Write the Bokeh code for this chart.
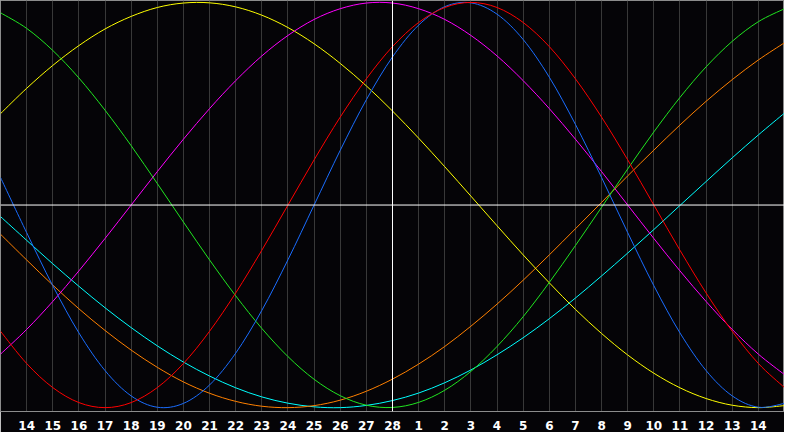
from bokeh.plotting import figure
from bokeh.models import Range1d, FixedTicker, Span
from bokeh.embed import file_html
from bokeh.resources import INLINE

# day index 0..30, ticks on 1..29 (14th of one month to 14th of the next)
days = list(range(31))
tick_days = list(range(1, 30))
tick_labels = ["14", "15", "16", "17", "18", "19", "20", "21", "22", "23", "24",
               "25", "26", "27", "28", "1", "2", "3", "4", "5", "6", "7", "8",
               "9", "10", "11", "12", "13", "14"]
today = 15

# values, one per day
physical = [0.136, -0.136, -0.398, -0.631, -0.817, -0.942, -0.998, -0.979, -0.888, -0.731,
            -0.520, -0.270, 0.000, 0.270, 0.520, 0.731, 0.888, 0.979, 0.998, 0.942, 0.817,
            0.631, 0.398, 0.136, -0.136, -0.398, -0.631, -0.817, -0.942, -0.998, -0.979]
emotional = [-0.623, -0.782, -0.901, -0.975, -1.000, -0.975, -0.901, -0.782, -0.623, -0.434,
             -0.223, 0.000, 0.223, 0.434, 0.623, 0.782, 0.901, 0.975, 1.000, 0.975, 0.901,
             0.782, 0.623, 0.434, 0.223, 0.000, -0.223, -0.434, -0.623, -0.782, -0.901]
intellectual = [0.949, 0.872, 0.763, 0.627, 0.468, 0.293, 0.106, -0.084, -0.271, -0.448,
                -0.609, -0.748, -0.860, -0.941, -0.988, -0.999, -0.974, -0.914, -0.821, -0.698,
                -0.551, -0.382, -0.200, -0.011, 0.178, 0.361, 0.531, 0.682, 0.808, 0.905, 0.969]
intuitive = [-0.736, -0.614, -0.476, -0.325, -0.165, 0.000, 0.165, 0.325, 0.476, 0.614,
             0.736, 0.837, 0.916, 0.969, 0.997, 0.997, 0.969, 0.916, 0.837, 0.736, 0.614,
             0.476, 0.325, 0.165, 0.000, -0.165, -0.325, -0.476, -0.614, -0.736, -0.837]
aesthetic = [0.451, 0.576, 0.689, 0.787, 0.869, 0.931, 0.975, 0.997, 0.998, 0.978,
             0.937, 0.876, 0.796, 0.699, 0.588, 0.464, 0.330, 0.189, 0.044, -0.102, -0.246,
             -0.384, -0.515, -0.634, -0.740, -0.830, -0.902, -0.955, -0.988, -1.000, -0.990]
awareness = [-0.144, -0.271, -0.395, -0.512, -0.619, -0.716, -0.801, -0.873, -0.929, -0.969,
             -0.993, -1.000, -0.990, -0.963, -0.919, -0.859, -0.785, -0.698, -0.598, -0.489,
             -0.371, -0.246, -0.117, 0.013, 0.144, 0.271, 0.395, 0.512, 0.619, 0.716, 0.801]
spiritual = [-0.057, -0.174, -0.290, -0.401, -0.507, -0.605, -0.695, -0.775, -0.844, -0.902,
             -0.947, -0.978, -0.996, -1.000, -0.989, -0.965, -0.928, -0.877, -0.814, -0.739,
             -0.655, -0.561, -0.459, -0.350, -0.237, -0.121, -0.002, 0.116, 0.233, 0.346, 0.454]

series = [
    (spiritual, "#00ffff"),
    (awareness, "#ff8000"),
    (aesthetic, "#ffff00"),
    (intuitive, "#ff00ff"),
    (intellectual, "#20e620"),
    (physical, "#1a6dff"),
    (emotional, "#ff0000"),
]

bg = "#050407"

p = figure(width=784, height=432, x_range=Range1d(0, 30), y_range=Range1d(-1.019, 1.0095),
           output_backend="svg", toolbar_location=None,
           min_border_left=0, min_border_right=0, min_border_top=0, min_border_bottom=19)
p.background_fill_color = bg
p.border_fill_color = bg
p.outline_line_color = "#8c8c8c"

p.yaxis.visible = False
p.ygrid.visible = False

p.xaxis.ticker = FixedTicker(ticks=tick_days)
p.xaxis.major_label_overrides = {d: s for d, s in zip(tick_days, tick_labels)}
p.xaxis.axis_line_color = "#8c8c8c"
p.xaxis.major_tick_line_color = None
p.xaxis.minor_tick_line_color = None
p.xaxis.major_label_text_color = "white"
p.xaxis.major_label_text_font = "DejaVu Sans"
p.xaxis.major_label_text_font_style = "bold"
p.xaxis.major_label_text_font_size = "12px"
p.xaxis.major_label_standoff = 3

p.xgrid.ticker = FixedTicker(ticks=tick_days)
p.xgrid.grid_line_color = "#383838"

p.add_layout(Span(location=0, dimension="width", line_color="white", line_width=1))
p.add_layout(Span(location=today, dimension="height", line_color="white", line_width=1))


def smooth(xs, ys):
    # catmull-rom through the daily readings, drawn as bezier segments
    n = len(xs)
    seg = dict(x0=[], y0=[], x1=[], y1=[], cx0=[], cy0=[], cx1=[], cy1=[])
    for i in range(n - 1):
        a = max(i - 1, 0)
        b = min(i + 2, n - 1)
        seg["x0"].append(xs[i])
        seg["y0"].append(ys[i])
        seg["x1"].append(xs[i + 1])
        seg["y1"].append(ys[i + 1])
        seg["cx0"].append(xs[i] + (xs[i + 1] - xs[a]) / 6)
        seg["cy0"].append(ys[i] + (ys[i + 1] - ys[a]) / 6)
        seg["cx1"].append(xs[i + 1] - (xs[b] - xs[i]) / 6)
        seg["cy1"].append(ys[i + 1] - (ys[b] - ys[i]) / 6)
    return seg


for vals, color in series:
    s = smooth(days, vals)
    p.bezier(x0=s["x0"], y0=s["y0"], x1=s["x1"], y1=s["y1"],
             cx0=s["cx0"], cy0=s["cy0"], cx1=s["cx1"], cy1=s["cy1"],
             line_color=color, line_width=1)

open("out.html", "w").write(file_html(p, INLINE))
